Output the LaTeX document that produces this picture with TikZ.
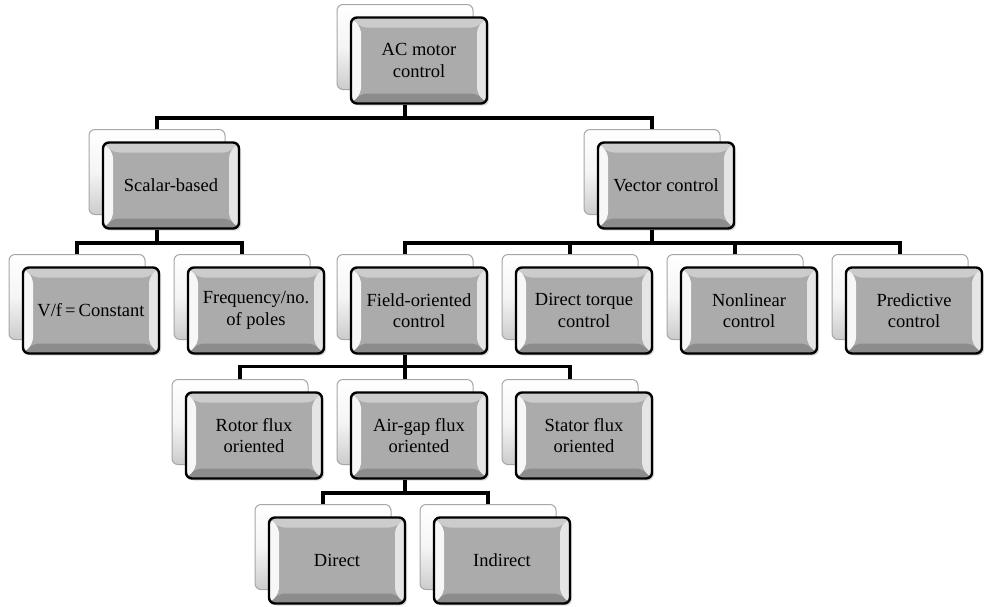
\documentclass[tikz,border=0pt]{standalone}
\usepackage{fontspec}
\setmainfont{Liberation Serif}
\usetikzlibrary{positioning,shadows}

\begin{document}
\begin{tikzpicture}[x=1pt, y=-1pt,
    backbox/.style={rectangle, rounded corners=6pt, draw=black!35, line width=1pt, top color=white, bottom color=black!20, middle color=black!4, minimum width=136pt, minimum height=85pt},
    bevel/.style={path picture={
        \path (path picture bounding box.north west) coordinate (p1)
              (path picture bounding box.north east) coordinate (p2)
              (path picture bounding box.south east) coordinate (p3)
              (path picture bounding box.south west) coordinate (p4);
        \fill[black!20] (p1) -- (p2) -- ([shift={(-10pt,-10pt)}]p2) -- ([shift={(10pt,-10pt)}]p1) -- cycle;
        \fill[black!45] (p4) -- (p3) -- ([shift={(-10pt,10pt)}]p3) -- ([shift={(10pt,10pt)}]p4) -- cycle;
        \fill[black!3] (p1) -- (p4) -- ([shift={(10pt,10pt)}]p4) -- ([shift={(10pt,-10pt)}]p1) -- cycle;
        \fill[black!10] (p2) -- (p3) -- ([shift={(-10pt,10pt)}]p3) -- ([shift={(-10pt,-10pt)}]p2) -- cycle;}},
    frontbox/.style={rectangle, rounded corners=6pt, draw=black, line width=2.4pt, fill=black!33, bevel, minimum width=136pt, minimum height=86pt, xshift=14pt, yshift=-13.5pt, align=center, font=\fontsize{18.5}{21.5}\selectfont, drop shadow={opacity=0.3, shadow xshift=2pt, shadow yshift=-2pt}},
    link/.style={draw=black, line width=3.5pt}
   ]
   \useasboundingbox (0,0) rectangle (984,606);

   \node[backbox]  (acb)       at (405,47)  {};
   \node[frontbox] (ac)        at (acb)     {AC motor\\control};
   \node[backbox]  (scalarb)   at (157,172) {};
   \node[frontbox] (scalar)    at (scalarb) {Scalar-based};
   \node[backbox]  (vectorb)   at (652,172) {};
   \node[frontbox] (vector)    at (vectorb) {Vector control};

   \node[backbox]  (vfb)       at (77,297)  {};
   \node[frontbox] (vf)        at (vfb)     {V/f\,=\,Constant};
   \node[backbox]  (freqb)     at (242,297) {};
   \node[frontbox] (freq)      at (freqb)   {Frequency/no.\\of poles};
   \node[backbox]  (focb)      at (405,297) {};
   \node[frontbox] (foc)       at (focb)    {Field-oriented\\control};
   \node[backbox]  (dtcb)      at (570,297) {};
   \node[frontbox] (dtc)       at (dtcb)    {Direct torque\\control};
   \node[backbox]  (nlcb)      at (735,297) {};
   \node[frontbox] (nlc)       at (nlcb)    {Nonlinear\\control};
   \node[backbox]  (pcb)       at (900,297) {};
   \node[frontbox] (pc)        at (pcb)     {Predictive\\control};

   \node[backbox]  (rotorb)    at (240,422) {};
   \node[frontbox] (rotor)     at (rotorb)  {Rotor flux\\oriented};
   \node[backbox]  (airgapb)   at (405,422) {};
   \node[frontbox] (airgap)    at (airgapb) {Air-gap flux\\oriented};
   \node[backbox]  (statorb)   at (570,422) {};
   \node[frontbox] (stator)    at (statorb) {Stator flux\\oriented};

   \node[backbox]  (directb)   at (323,547) {};
   \node[frontbox] (direct)    at (directb) {Direct};
   \node[backbox]  (indirectb) at (488,547) {};
   \node[frontbox] (indirect)  at (indirectb) {Indirect};

  \draw[link] (ac.south -| acb) -- +(0,13.5) -| (scalarb.north);
  \draw[link] (ac.south -| acb) -- +(0,13.5) -| (vectorb.north);
  \draw[link] (scalar.south -| scalarb) -- +(0,13.5) -| (vfb.north);
  \draw[link] (scalar.south -| scalarb) -- +(0,13.5) -| (freqb.north);
  \draw[link] (vector.south -| vectorb) -- +(0,13.5) -| (focb.north);
  \draw[link] (vector.south -| vectorb) -- +(0,13.5) -| (dtcb.north);
  \draw[link] (vector.south -| vectorb) -- +(0,13.5) -| (nlcb.north);
  \draw[link] (vector.south -| vectorb) -- +(0,13.5) -| (pcb.north);
  \draw[link] (foc.south -| focb) -- +(0,12) -| (rotorb.north);
  \draw[link] (foc.south -| focb) -- +(0,12) -| (airgapb.north);
  \draw[link] (foc.south -| focb) -- +(0,12) -| (statorb.north);
  \draw[link] (airgap.south -| airgapb) -- +(0,13.5) -| (directb.north);
  \draw[link] (airgap.south -| airgapb) -- +(0,13.5) -| (indirectb.north);
 \end{tikzpicture}
\end{document}
